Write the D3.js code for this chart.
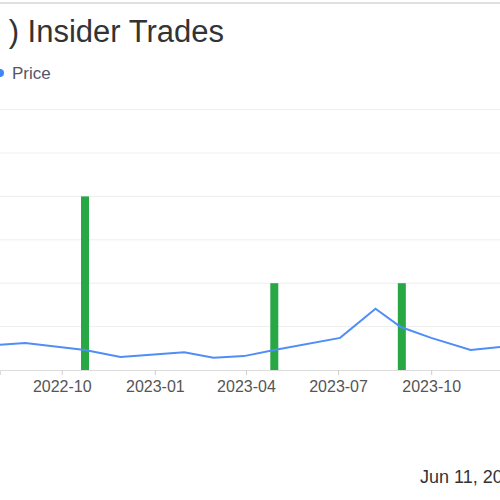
<!DOCTYPE html>
<html><head><meta charset="utf-8">
<script src="https://cdn.jsdelivr.net/npm/d3@7"></script>
<style>body{margin:0;background:#fff}</style></head>
<body><svg id="c" width="500" height="500"></svg>
<script>
const priceDates=["2022-08-01","2022-08-26","2022-10-24","2022-11-28","2023-01-30","2023-02-28","2023-03-30","2023-04-29","2023-07-03","2023-08-07","2023-09-01","2023-10-01","2023-11-09","2023-12-08"];
const priceValues=[0.58,0.62,0.46,0.30,0.41,0.28,0.32,0.46,0.74,1.41,0.99,0.74,0.46,0.53];
const tradeDates=["2022-10-24","2023-04-29","2023-09-02"];
const tradeValues=[4,2,2];
const gridValues=[0,1,2,3,4,5,6];
const tickLabels=["2022-10","2023-01","2023-04","2023-07","2023-10"];
const p=d3.timeParse("%Y-%m-%d"), svg=d3.select("#c");
const x=d3.scaleTime().domain([p("2022-08-01"),p("2023-12-08")]).range([0,500]);
const y=d3.scaleLinear().domain([0,6]).range([370,109.6]);
svg.append("line").attr("x1",0).attr("x2",500).attr("y1",3).attr("y2",3).attr("stroke","#e0e0e0").attr("stroke-width",2);
svg.append("text").attr("x",224).attr("y",42).attr("text-anchor","end").attr("font-family","Liberation Sans, Arial").attr("font-size",31).attr("fill","#333").text(") Insider Trades");
svg.append("circle").attr("cx",0).attr("cy",73).attr("r",4).attr("fill","#4285f4");
svg.append("text").attr("x",12).attr("y",79).attr("font-family","Liberation Sans, Arial").attr("font-size",17).attr("fill","#556").text("Price");
svg.selectAll(".g").data(gridValues.slice(1)).join("line").attr("x1",0).attr("x2",500).attr("y1",d=>y(d)).attr("y2",d=>y(d)).attr("stroke","#eee");
svg.selectAll(".b").data(tradeDates).join("rect").attr("x",(d)=>x(p(d))-4).attr("width",8).attr("y",(d,i)=>y(tradeValues[i])).attr("height",(d,i)=>370-y(tradeValues[i])).attr("fill","#28a745");
const line=d3.line().x((d)=>x(p(d))).y((d,i)=>y(priceValues[i]));
svg.append("path").attr("d",line(priceDates)).attr("fill","none").attr("stroke","#4f8ef7").attr("stroke-width",2);
const ax=svg.append("g").attr("transform","translate(0,370)").call(d3.axisBottom(x).tickValues(tickLabels.map(t=>p(t+"-01"))).tickFormat(d3.timeFormat("%Y-%m")).tickSize(5));
ax.select(".domain").attr("stroke","#ddd");
ax.selectAll(".tick line").attr("stroke","#ccc");
ax.selectAll("text").attr("font-family","Liberation Sans, Arial").attr("font-size",16).attr("fill","#555").attr("dy","0.9em");
svg.append("text").attr("x",420).attr("y",483).attr("font-family","Liberation Sans, Arial").attr("font-size",18).attr("fill","#333").text("Jun 11, 2024");
</script></body></html>
